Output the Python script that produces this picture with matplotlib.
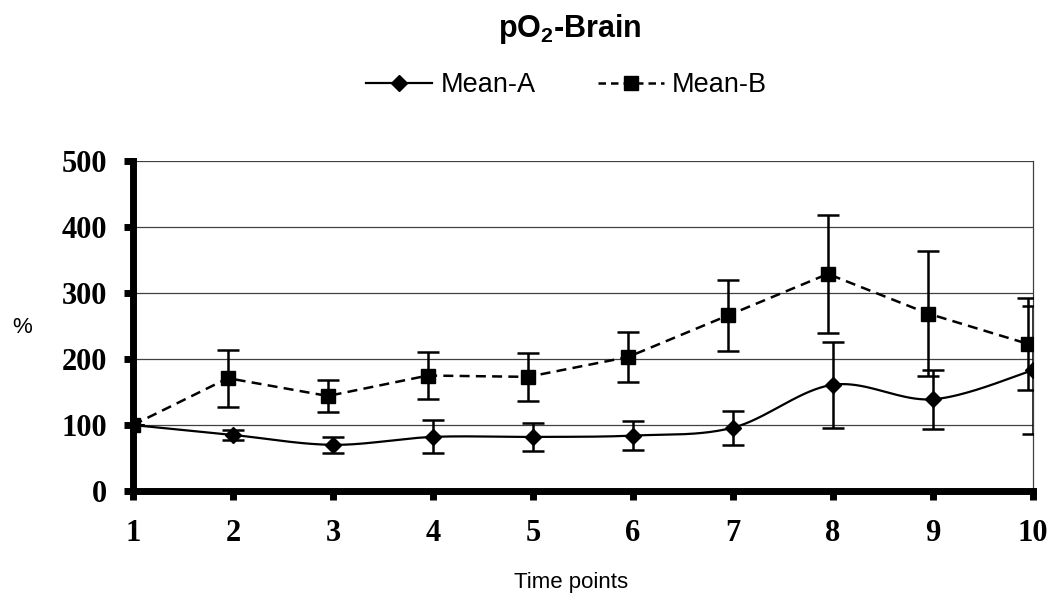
import numpy as np
import matplotlib
matplotlib.use("Agg")
import matplotlib.pyplot as plt
from matplotlib.lines import Line2D

# ---- data ----
time_points = [1, 2, 3, 4, 5, 6, 7, 8, 9, 10]
mean_a = [100, 85, 70, 82, 82, 84, 96, 161, 139, 183]
err_a = [0, 8, 12, 25, 21, 22, 26, 65, 45, 97]
mean_b = [100, 171, 144, 175, 173, 203, 266, 329, 269, 223]
err_b = [0, 43, 24, 36, 36, 38, 54, 90, 95, 70]
y_ticks = [0, 100, 200, 300, 400, 500]

B_SHIFT = -0.05  # small horizontal offset of series B as in the original


def smooth(xs, ys, n=40):
    """Excel-like smoothed line (Catmull-Rom Bezier)."""
    xs = np.asarray(xs, float); ys = np.asarray(ys, float)
    P = np.column_stack([xs, ys])
    out = []
    for i in range(len(P) - 1):
        p0 = P[i - 1] if i > 0 else P[i]
        p1 = P[i]; p2 = P[i + 1]
        p3 = P[i + 2] if i + 2 < len(P) else P[i + 1]
        c1 = p1 + (p2 - p0) / 6.0
        c2 = p2 - (p3 - p1) / 6.0
        t = np.linspace(0, 1, n)[:, None]
        seg = ((1 - t) ** 3) * p1 + 3 * ((1 - t) ** 2) * t * c1 + 3 * (1 - t) * t ** 2 * c2 + t ** 3 * p2
        out.append(seg if i == 0 else seg[1:])
    s = np.vstack(out)
    return s[:, 0], s[:, 1]


fig = plt.figure(figsize=(10.55, 6.01), dpi=100)
ax = fig.add_axes([0.126, 0.183, 0.853, 0.549])

# gridlines
ax.set_axisbelow(True)
ax.yaxis.grid(True, color="#404040", linewidth=0.9)

# series A (smooth solid, diamonds)
sx, sy = smooth(time_points, mean_a)
ax.plot(sx, sy, color="black", linewidth=1.6, zorder=3)
ax.errorbar(time_points, mean_a, yerr=err_a, fmt="none", ecolor="black",
            elinewidth=1.8, capsize=8, capthick=1.8, zorder=3)
ax.plot(time_points, mean_a, linestyle="none", marker="D", markersize=8.5,
        color="black", zorder=4)

# series B (dashed, squares)
xb = np.asarray(time_points, float) + B_SHIFT
xb[0] = time_points[0]
ax.plot(xb, mean_b, color="black", linewidth=1.8, linestyle=(0, (4, 2.5)), zorder=3)
ax.errorbar(xb, mean_b, yerr=err_b, fmt="none", ecolor="black",
            elinewidth=1.8, capsize=8, capthick=1.8, zorder=3)
ax.plot(xb, mean_b, linestyle="none", marker="s", markersize=10,
        color="black", zorder=4)

ax.set_xlim(time_points[0], time_points[-1])
ax.set_ylim(y_ticks[0], y_ticks[-1])
ax.set_xticks(time_points)
ax.set_yticks(y_ticks)

for lab in ax.get_xticklabels() + ax.get_yticklabels():
    lab.set_fontfamily("Liberation Serif")
    lab.set_fontweight("bold")
    lab.set_fontsize(22)

ax.tick_params(axis="both", direction="out", length=6.5, width=5, color="black")
ax.tick_params(axis="y", pad=12)
ax.tick_params(axis="x", pad=14)

ax.spines["left"].set_linewidth(5)
ax.spines["bottom"].set_linewidth(5)
ax.spines["top"].set_visible(False)
ax.spines["right"].set_linewidth(0.9)
ax.spines["right"].set_color("#404040")

# texts
fig.text(0.540, 0.951, "pO$_\\mathregular{2}$-Brain", ha="center", va="center",
         fontsize=22, fontweight="bold", family="Liberation Sans")
fig.text(0.541, 0.030, "Time points", ha="center", va="center",
         fontsize=16, family="Liberation Sans")
fig.text(0.021, 0.455, "%", ha="center", va="center",
         fontsize=16, family="Liberation Sans")

handles = [
    Line2D([], [], color="black", linewidth=1.6, marker="D", markersize=8.5),
    Line2D([], [], color="black", linewidth=1.8, linestyle=(0, (3, 2)), marker="s", markersize=10),
]
fig.legend(handles, ["Mean-A", "Mean-B"], loc="center", bbox_to_anchor=(0.537, 0.858),
           ncol=2, frameon=False, prop={"family": "Liberation Sans", "size": 19.5},
           handlelength=2.45, handletextpad=0.3, columnspacing=2.3)

fig.savefig("out.png", dpi=100)
